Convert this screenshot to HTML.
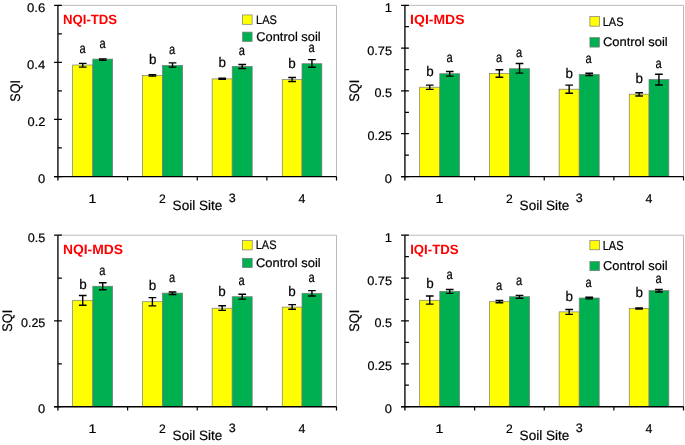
<!DOCTYPE html>
<html><head><meta charset="utf-8"><title>SQI charts</title>
<style>html,body{margin:0;padding:0;background:#fff;}svg{display:block;font-family:'Liberation Sans', sans-serif;will-change:transform;text-rendering:geometricPrecision;}</style>
</head><body>
<svg width="685" height="445" viewBox="0 0 685 445">
<rect width="685" height="445" fill="#fff"/>
<path d="M58 5.35H336.5V176.5" fill="none" stroke="#BBBBBB" stroke-width="1"/>
<rect x="72.65" y="65" width="20.15" height="111.5" fill="#FFFF00" stroke="#7A7A7A" stroke-width="0.7"/>
<rect x="92.8" y="59.1" width="19.85" height="117.4" fill="#00B050" stroke="#7A7A7A" stroke-width="0.7"/>
<path d="M78.88 63.35H86.57M82.72 63.35V67.15M78.88 67.15H86.57" stroke="#000" stroke-width="1.4" fill="none"/>
<path d="M98.88 58.85H106.57M102.72 58.85V60.35M98.88 60.35H106.57" stroke="#000" stroke-width="1.4" fill="none"/>
<rect x="142.4" y="75.5" width="20" height="101" fill="#FFFF00" stroke="#7A7A7A" stroke-width="0.7"/>
<rect x="162.4" y="65.4" width="20.25" height="111.1" fill="#00B050" stroke="#7A7A7A" stroke-width="0.7"/>
<path d="M148.55 74.65H156.25M152.4 74.65V76.15M148.55 76.15H156.25" stroke="#000" stroke-width="1.4" fill="none"/>
<path d="M168.68 62.85H176.38M172.53 62.85V67.15M168.68 67.15H176.38" stroke="#000" stroke-width="1.4" fill="none"/>
<rect x="212.15" y="78.9" width="20.05" height="97.6" fill="#FFFF00" stroke="#7A7A7A" stroke-width="0.7"/>
<rect x="232.2" y="66.4" width="20" height="110.1" fill="#00B050" stroke="#7A7A7A" stroke-width="0.7"/>
<path d="M218.33 78.15H226.03M222.18 78.15V79.35M218.33 79.35H226.03" stroke="#000" stroke-width="1.4" fill="none"/>
<path d="M238.35 64.55H246.05M242.2 64.55V68.45M238.35 68.45H246.05" stroke="#000" stroke-width="1.4" fill="none"/>
<rect x="282.25" y="79.5" width="19.75" height="97" fill="#FFFF00" stroke="#7A7A7A" stroke-width="0.7"/>
<rect x="302" y="63.7" width="19.85" height="112.8" fill="#00B050" stroke="#7A7A7A" stroke-width="0.7"/>
<path d="M288.27 77.45H295.98M292.12 77.45V81.45M288.27 81.45H295.98" stroke="#000" stroke-width="1.4" fill="none"/>
<path d="M308.07 59.65H315.78M311.93 59.65V67.25M308.07 67.25H315.78" stroke="#000" stroke-width="1.4" fill="none"/>
<path d="M57.9 5.35V180.5" stroke="#383838" stroke-width="1.7" fill="none"/>
<path d="M54.1 176.5H61.9M54.1 119.45H61.9M54.1 62.4H61.9M54.1 5.35H61.9M58 147.97H61.9M58 90.92H61.9M58 33.88H61.9" stroke="#000" stroke-width="1.25" fill="none"/>
<path d="M54.1 176.65H336.5" stroke="#000" stroke-width="1.4" fill="none"/>
<path d="M127.62 176.5V180.5M197.25 176.5V180.5M266.88 176.5V180.5M336.5 176.5V180.5" stroke="#000" stroke-width="1.2" fill="none"/>
<text transform="translate(38.08 182.98) scale(1.0421 1)" font-size="12.394" font-weight="400" fill="#000" stroke="#000" stroke-width="0.2">0</text>
<text transform="translate(27.59 125.93) scale(1.0365 1)" font-size="12.394" font-weight="400" fill="#000" stroke="#000" stroke-width="0.2">0.2</text>
<text transform="translate(26.98 68.88) scale(1.0574 1)" font-size="12.394" font-weight="400" fill="#000" stroke="#000" stroke-width="0.2">0.4</text>
<text transform="translate(27.07 11.83) scale(1.0593 1)" font-size="12.394" font-weight="400" fill="#000" stroke="#000" stroke-width="0.2">0.6</text>
<text transform="translate(88.62 202.6) scale(1.1382 1)" font-size="12.464" font-weight="400" fill="#000" stroke="#000" stroke-width="0.2">1</text>
<text transform="translate(158.99 202.6) scale(0.9909 1)" font-size="12.286" font-weight="400" fill="#000" stroke="#000" stroke-width="0.2">2</text>
<text transform="translate(228.75 202.48) scale(1.0364 1)" font-size="12.113" font-weight="400" fill="#000" stroke="#000" stroke-width="0.2">3</text>
<text transform="translate(298.6 202.73) scale(0.9767 1)" font-size="12.647" font-weight="400" fill="#000" stroke="#000" stroke-width="0.2">4</text>
<text transform="translate(172.62 209.96) scale(0.9913 1)" font-size="13.649" font-weight="400" fill="#000" stroke="#000" stroke-width="0.2">Soil Site</text>
<text transform="translate(19.6 101.63) rotate(-90) scale(0.9043 1)" font-size="13.857" font-weight="400" fill="#000" stroke="#000" stroke-width="0.2">SQI</text>
<text transform="translate(62.98 24.4) scale(0.9830 1)" font-size="13.429" font-weight="700" fill="#FF0000">NQI-TDS</text>
<rect x="242.6" y="14.95" width="9.5" height="9.35" fill="#FFFF00" stroke="#7A7A7A" stroke-width="0.7"/>
<rect x="242.6" y="32.1" width="9.5" height="9.4" fill="#00B050" stroke="#7A7A7A" stroke-width="0.7"/>
<text transform="translate(256.02 23.98) scale(0.8893 1)" font-size="12.394" font-weight="400" fill="#000" stroke="#000" stroke-width="0.2">LAS</text>
<text transform="translate(256.26 41.17) scale(1.0142 1)" font-size="12.703" font-weight="400" fill="#000" stroke="#000" stroke-width="0.2">Control soil</text>
<text transform="translate(79.55 53.31) scale(0.8072 1)" font-size="13.818" font-weight="400" fill="#000" stroke="#000" stroke-width="0.2">a</text>
<text transform="translate(99.45 47.81) scale(0.8072 1)" font-size="13.818" font-weight="400" fill="#000" stroke="#000" stroke-width="0.2">a</text>
<text transform="translate(149.01 64) scale(0.9597 1)" font-size="13.973" font-weight="400" fill="#000" stroke="#000" stroke-width="0.2">b</text>
<text transform="translate(168.9 53.71) scale(0.8072 1)" font-size="13.818" font-weight="400" fill="#000" stroke="#000" stroke-width="0.2">a</text>
<text transform="translate(218.46 67.05) scale(0.9597 1)" font-size="13.973" font-weight="400" fill="#000" stroke="#000" stroke-width="0.2">b</text>
<text transform="translate(238.65 55.01) scale(0.8072 1)" font-size="13.818" font-weight="400" fill="#000" stroke="#000" stroke-width="0.2">a</text>
<text transform="translate(288.26 67.7) scale(0.9597 1)" font-size="13.973" font-weight="400" fill="#000" stroke="#000" stroke-width="0.2">b</text>
<text transform="translate(308.45 52.16) scale(0.8072 1)" font-size="13.818" font-weight="400" fill="#000" stroke="#000" stroke-width="0.2">a</text>
<path d="M405 5.35H683.5V176.5" fill="none" stroke="#BBBBBB" stroke-width="1"/>
<rect x="419.65" y="87.2" width="20.15" height="89.3" fill="#FFFF00" stroke="#7A7A7A" stroke-width="0.7"/>
<rect x="439.8" y="73.7" width="19.85" height="102.8" fill="#00B050" stroke="#7A7A7A" stroke-width="0.7"/>
<path d="M425.88 85.15H433.58M429.73 85.15V89.35M425.88 89.35H433.58" stroke="#000" stroke-width="1.4" fill="none"/>
<path d="M445.88 71.55H453.58M449.73 71.55V76.15M445.88 76.15H453.58" stroke="#000" stroke-width="1.4" fill="none"/>
<rect x="489.4" y="73.4" width="20" height="103.1" fill="#FFFF00" stroke="#7A7A7A" stroke-width="0.7"/>
<rect x="509.4" y="68.7" width="20.25" height="107.8" fill="#00B050" stroke="#7A7A7A" stroke-width="0.7"/>
<path d="M495.55 69.75H503.25M499.4 69.75V77.25M495.55 77.25H503.25" stroke="#000" stroke-width="1.4" fill="none"/>
<path d="M515.67 63.55H523.38M519.52 63.55V73.15M515.67 73.15H523.38" stroke="#000" stroke-width="1.4" fill="none"/>
<rect x="559.15" y="89.2" width="20.05" height="87.3" fill="#FFFF00" stroke="#7A7A7A" stroke-width="0.7"/>
<rect x="579.2" y="74.4" width="20" height="102.1" fill="#00B050" stroke="#7A7A7A" stroke-width="0.7"/>
<path d="M565.32 85.15H573.02M569.17 85.15V93.25M565.32 93.25H573.02" stroke="#000" stroke-width="1.4" fill="none"/>
<path d="M585.35 73.25H593.05M589.2 73.25V75.45M585.35 75.45H593.05" stroke="#000" stroke-width="1.4" fill="none"/>
<rect x="629.25" y="94.2" width="19.75" height="82.3" fill="#FFFF00" stroke="#7A7A7A" stroke-width="0.7"/>
<rect x="649" y="79.4" width="19.85" height="97.1" fill="#00B050" stroke="#7A7A7A" stroke-width="0.7"/>
<path d="M635.27 92.75H642.98M639.12 92.75V96.05M635.27 96.05H642.98" stroke="#000" stroke-width="1.4" fill="none"/>
<path d="M655.07 74.25H662.77M658.92 74.25V85.05M655.07 85.05H662.77" stroke="#000" stroke-width="1.4" fill="none"/>
<path d="M404.9 5.35V180.5" stroke="#383838" stroke-width="1.7" fill="none"/>
<path d="M401.1 176.5H408.9M401.1 133.71H408.9M401.1 90.92H408.9M401.1 48.14H408.9M401.1 5.35H408.9M405 155.11H408.9M405 112.32H408.9M405 69.53H408.9M405 26.74H408.9" stroke="#000" stroke-width="1.25" fill="none"/>
<path d="M401.1 176.65H683.5" stroke="#000" stroke-width="1.4" fill="none"/>
<path d="M474.62 176.5V180.5M544.25 176.5V180.5M613.88 176.5V180.5M683.5 176.5V180.5" stroke="#000" stroke-width="1.2" fill="none"/>
<text transform="translate(384.78 182.98) scale(1.0421 1)" font-size="12.394" font-weight="400" fill="#000" stroke="#000" stroke-width="0.2">0</text>
<text transform="translate(367.6 140.19) scale(1.0150 1)" font-size="12.394" font-weight="400" fill="#000" stroke="#000" stroke-width="0.2">0.25</text>
<text transform="translate(374.39 97.4) scale(1.0224 1)" font-size="12.394" font-weight="400" fill="#000" stroke="#000" stroke-width="0.2">0.5</text>
<text transform="translate(367.19 54.61) scale(1.0324 1)" font-size="12.394" font-weight="400" fill="#000" stroke="#000" stroke-width="0.2">0.75</text>
<text transform="translate(384.86 11.95) scale(1.0211 1)" font-size="12.754" font-weight="400" fill="#000" stroke="#000" stroke-width="0.2">1</text>
<text transform="translate(435.62 202.6) scale(1.1382 1)" font-size="12.464" font-weight="400" fill="#000" stroke="#000" stroke-width="0.2">1</text>
<text transform="translate(505.99 202.6) scale(0.9909 1)" font-size="12.286" font-weight="400" fill="#000" stroke="#000" stroke-width="0.2">2</text>
<text transform="translate(575.75 202.48) scale(1.0364 1)" font-size="12.113" font-weight="400" fill="#000" stroke="#000" stroke-width="0.2">3</text>
<text transform="translate(645.6 202.73) scale(0.9767 1)" font-size="12.647" font-weight="400" fill="#000" stroke="#000" stroke-width="0.2">4</text>
<text transform="translate(519.62 209.96) scale(0.9913 1)" font-size="13.649" font-weight="400" fill="#000" stroke="#000" stroke-width="0.2">Soil Site</text>
<text transform="translate(359.4 101.63) rotate(-90) scale(0.9135 1)" font-size="13.857" font-weight="400" fill="#000" stroke="#000" stroke-width="0.2">SQI</text>
<text transform="translate(410.12 24.4) scale(1.0441 1)" font-size="13.429" font-weight="700" fill="#FF0000">IQI-MDS</text>
<rect x="589.9" y="16.6" width="9.5" height="9.6" fill="#FFFF00" stroke="#7A7A7A" stroke-width="0.7"/>
<rect x="589.9" y="37.6" width="9.5" height="9.5" fill="#00B050" stroke="#7A7A7A" stroke-width="0.7"/>
<text transform="translate(602.72 25.68) scale(0.8996 1)" font-size="12.254" font-weight="400" fill="#000" stroke="#000" stroke-width="0.2">LAS</text>
<text transform="translate(602.95 46.38) scale(1.0412 1)" font-size="12.432" font-weight="400" fill="#000" stroke="#000" stroke-width="0.2">Control soil</text>
<text transform="translate(426.16 75.85) scale(0.9597 1)" font-size="13.973" font-weight="400" fill="#000" stroke="#000" stroke-width="0.2">b</text>
<text transform="translate(446.6 62.01) scale(0.8072 1)" font-size="13.818" font-weight="400" fill="#000" stroke="#000" stroke-width="0.2">a</text>
<text transform="translate(496.05 62.21) scale(0.8072 1)" font-size="13.818" font-weight="400" fill="#000" stroke="#000" stroke-width="0.2">a</text>
<text transform="translate(515.95 57.01) scale(0.8072 1)" font-size="13.818" font-weight="400" fill="#000" stroke="#000" stroke-width="0.2">a</text>
<text transform="translate(565.41 77.5) scale(0.9597 1)" font-size="13.973" font-weight="400" fill="#000" stroke="#000" stroke-width="0.2">b</text>
<text transform="translate(585.55 62.76) scale(0.8072 1)" font-size="13.818" font-weight="400" fill="#000" stroke="#000" stroke-width="0.2">a</text>
<text transform="translate(635.41 83.05) scale(0.9597 1)" font-size="13.973" font-weight="400" fill="#000" stroke="#000" stroke-width="0.2">b</text>
<text transform="translate(655.55 67.81) scale(0.8072 1)" font-size="13.818" font-weight="400" fill="#000" stroke="#000" stroke-width="0.2">a</text>
<path d="M58 235.2H336.5V406.6" fill="none" stroke="#BBBBBB" stroke-width="1"/>
<rect x="72.65" y="300.3" width="20.15" height="106.3" fill="#FFFF00" stroke="#7A7A7A" stroke-width="0.7"/>
<rect x="92.8" y="286.2" width="19.85" height="120.4" fill="#00B050" stroke="#7A7A7A" stroke-width="0.7"/>
<path d="M78.88 295.55H86.57M82.72 295.55V305.25M78.88 305.25H86.57" stroke="#000" stroke-width="1.4" fill="none"/>
<path d="M98.88 282.75H106.57M102.72 282.75V289.75M98.88 289.75H106.57" stroke="#000" stroke-width="1.4" fill="none"/>
<rect x="142.4" y="301.7" width="20" height="104.9" fill="#FFFF00" stroke="#7A7A7A" stroke-width="0.7"/>
<rect x="162.4" y="293.1" width="20.25" height="113.5" fill="#00B050" stroke="#7A7A7A" stroke-width="0.7"/>
<path d="M148.55 297.65H156.25M152.4 297.65V305.85M148.55 305.85H156.25" stroke="#000" stroke-width="1.4" fill="none"/>
<path d="M168.68 291.95H176.38M172.53 291.95V294.45M168.68 294.45H176.38" stroke="#000" stroke-width="1.4" fill="none"/>
<rect x="212.15" y="308.2" width="20.05" height="98.4" fill="#FFFF00" stroke="#7A7A7A" stroke-width="0.7"/>
<rect x="232.2" y="296.7" width="20" height="109.9" fill="#00B050" stroke="#7A7A7A" stroke-width="0.7"/>
<path d="M218.33 305.75H226.03M222.18 305.75V310.35M218.33 310.35H226.03" stroke="#000" stroke-width="1.4" fill="none"/>
<path d="M238.35 294.25H246.05M242.2 294.25V299.15M238.35 299.15H246.05" stroke="#000" stroke-width="1.4" fill="none"/>
<rect x="282.25" y="307.1" width="19.75" height="99.5" fill="#FFFF00" stroke="#7A7A7A" stroke-width="0.7"/>
<rect x="302" y="293.3" width="19.85" height="113.3" fill="#00B050" stroke="#7A7A7A" stroke-width="0.7"/>
<path d="M288.27 304.65H295.98M292.12 304.65V309.25M288.27 309.25H295.98" stroke="#000" stroke-width="1.4" fill="none"/>
<path d="M308.07 290.65H315.78M311.93 290.65V296.05M308.07 296.05H315.78" stroke="#000" stroke-width="1.4" fill="none"/>
<path d="M57.9 235.2V410.6" stroke="#383838" stroke-width="1.7" fill="none"/>
<path d="M54.1 406.6H61.9M54.1 320.9H61.9M54.1 235.2H61.9M58 363.75H61.9M58 278.05H61.9" stroke="#000" stroke-width="1.25" fill="none"/>
<path d="M54.1 406.75H336.5" stroke="#000" stroke-width="1.4" fill="none"/>
<path d="M127.62 406.6V410.6M197.25 406.6V410.6M266.88 406.6V410.6M336.5 406.6V410.6" stroke="#000" stroke-width="1.2" fill="none"/>
<text transform="translate(38.08 413.08) scale(1.0421 1)" font-size="12.394" font-weight="400" fill="#000" stroke="#000" stroke-width="0.2">0</text>
<text transform="translate(20.9 327.38) scale(1.0150 1)" font-size="12.394" font-weight="400" fill="#000" stroke="#000" stroke-width="0.2">0.25</text>
<text transform="translate(27.69 241.68) scale(1.0224 1)" font-size="12.394" font-weight="400" fill="#000" stroke="#000" stroke-width="0.2">0.5</text>
<text transform="translate(88.62 432.5) scale(1.1382 1)" font-size="12.464" font-weight="400" fill="#000" stroke="#000" stroke-width="0.2">1</text>
<text transform="translate(158.99 432.5) scale(0.9909 1)" font-size="12.286" font-weight="400" fill="#000" stroke="#000" stroke-width="0.2">2</text>
<text transform="translate(228.75 432.38) scale(1.0364 1)" font-size="12.113" font-weight="400" fill="#000" stroke="#000" stroke-width="0.2">3</text>
<text transform="translate(298.6 432.63) scale(0.9767 1)" font-size="12.647" font-weight="400" fill="#000" stroke="#000" stroke-width="0.2">4</text>
<text transform="translate(172.62 439.86) scale(0.9913 1)" font-size="13.649" font-weight="400" fill="#000" stroke="#000" stroke-width="0.2">Soil Site</text>
<text transform="translate(12.4 331.63) rotate(-90) scale(0.9135 1)" font-size="13.857" font-weight="400" fill="#000" stroke="#000" stroke-width="0.2">SQI</text>
<text transform="translate(62.93 254.2) scale(1.0232 1)" font-size="13.571" font-weight="700" fill="#FF0000">NQI-MDS</text>
<rect x="242.5" y="240.6" width="9.7" height="9.3" fill="#FFFF00" stroke="#7A7A7A" stroke-width="0.7"/>
<rect x="242.5" y="258.3" width="9.7" height="9.3" fill="#00B050" stroke="#7A7A7A" stroke-width="0.7"/>
<text transform="translate(255.72 249.37) scale(0.8793 1)" font-size="12.535" font-weight="400" fill="#000" stroke="#000" stroke-width="0.2">LAS</text>
<text transform="translate(255.95 267.08) scale(1.0412 1)" font-size="12.432" font-weight="400" fill="#000" stroke="#000" stroke-width="0.2">Control soil</text>
<text transform="translate(79.26 288.65) scale(0.9597 1)" font-size="13.973" font-weight="400" fill="#000" stroke="#000" stroke-width="0.2">b</text>
<text transform="translate(99.15 274.71) scale(0.8072 1)" font-size="13.818" font-weight="400" fill="#000" stroke="#000" stroke-width="0.2">a</text>
<text transform="translate(148.86 290.15) scale(0.9597 1)" font-size="13.973" font-weight="400" fill="#000" stroke="#000" stroke-width="0.2">b</text>
<text transform="translate(168.95 281.51) scale(0.8072 1)" font-size="13.818" font-weight="400" fill="#000" stroke="#000" stroke-width="0.2">a</text>
<text transform="translate(218.26 296.25) scale(0.9597 1)" font-size="13.973" font-weight="400" fill="#000" stroke="#000" stroke-width="0.2">b</text>
<text transform="translate(238.6 285.36) scale(0.8072 1)" font-size="13.818" font-weight="400" fill="#000" stroke="#000" stroke-width="0.2">a</text>
<text transform="translate(288.26 295.5) scale(0.9597 1)" font-size="13.973" font-weight="400" fill="#000" stroke="#000" stroke-width="0.2">b</text>
<text transform="translate(308.6 281.61) scale(0.8072 1)" font-size="13.818" font-weight="400" fill="#000" stroke="#000" stroke-width="0.2">a</text>
<path d="M405 235.2H683.5V406.6" fill="none" stroke="#BBBBBB" stroke-width="1"/>
<rect x="419.65" y="300.3" width="20.15" height="106.3" fill="#FFFF00" stroke="#7A7A7A" stroke-width="0.7"/>
<rect x="439.8" y="291.3" width="19.85" height="115.3" fill="#00B050" stroke="#7A7A7A" stroke-width="0.7"/>
<path d="M425.88 296.05H433.58M429.73 296.05V304.15M425.88 304.15H433.58" stroke="#000" stroke-width="1.4" fill="none"/>
<path d="M445.88 289.55H453.58M449.73 289.55V293.35M445.88 293.35H453.58" stroke="#000" stroke-width="1.4" fill="none"/>
<rect x="489.4" y="301.7" width="20" height="104.9" fill="#FFFF00" stroke="#7A7A7A" stroke-width="0.7"/>
<rect x="509.4" y="296.7" width="20.25" height="109.9" fill="#00B050" stroke="#7A7A7A" stroke-width="0.7"/>
<path d="M495.55 300.55H503.25M499.4 300.55V302.75M495.55 302.75H503.25" stroke="#000" stroke-width="1.4" fill="none"/>
<path d="M515.67 295.35H523.38M519.52 295.35V298.25M515.67 298.25H523.38" stroke="#000" stroke-width="1.4" fill="none"/>
<rect x="559.15" y="311.9" width="20.05" height="94.7" fill="#FFFF00" stroke="#7A7A7A" stroke-width="0.7"/>
<rect x="579.2" y="298" width="20" height="108.6" fill="#00B050" stroke="#7A7A7A" stroke-width="0.7"/>
<path d="M565.32 309.45H573.02M569.17 309.45V314.35M565.32 314.35H573.02" stroke="#000" stroke-width="1.4" fill="none"/>
<path d="M585.35 297.25H593.05M589.2 297.25V298.85M585.35 298.85H593.05" stroke="#000" stroke-width="1.4" fill="none"/>
<rect x="629.25" y="308.4" width="19.75" height="98.2" fill="#FFFF00" stroke="#7A7A7A" stroke-width="0.7"/>
<rect x="649" y="290.6" width="19.85" height="116" fill="#00B050" stroke="#7A7A7A" stroke-width="0.7"/>
<path d="M635.27 308.05H642.98M639.12 308.05V308.95M635.27 308.95H642.98" stroke="#000" stroke-width="1.4" fill="none"/>
<path d="M655.07 289.55H662.77M658.92 289.55V291.95M655.07 291.95H662.77" stroke="#000" stroke-width="1.4" fill="none"/>
<path d="M404.9 235.2V410.6" stroke="#383838" stroke-width="1.7" fill="none"/>
<path d="M401.1 406.6H408.9M401.1 363.75H408.9M401.1 320.9H408.9M401.1 278.05H408.9M401.1 235.2H408.9M405 385.18H408.9M405 342.33H408.9M405 299.48H408.9M405 256.62H408.9" stroke="#000" stroke-width="1.25" fill="none"/>
<path d="M401.1 406.75H683.5" stroke="#000" stroke-width="1.4" fill="none"/>
<path d="M474.62 406.6V410.6M544.25 406.6V410.6M613.88 406.6V410.6M683.5 406.6V410.6" stroke="#000" stroke-width="1.2" fill="none"/>
<text transform="translate(384.78 413.08) scale(1.0421 1)" font-size="12.394" font-weight="400" fill="#000" stroke="#000" stroke-width="0.2">0</text>
<text transform="translate(367.6 370.23) scale(1.0150 1)" font-size="12.394" font-weight="400" fill="#000" stroke="#000" stroke-width="0.2">0.25</text>
<text transform="translate(374.39 327.38) scale(1.0224 1)" font-size="12.394" font-weight="400" fill="#000" stroke="#000" stroke-width="0.2">0.5</text>
<text transform="translate(367.19 284.53) scale(1.0324 1)" font-size="12.394" font-weight="400" fill="#000" stroke="#000" stroke-width="0.2">0.75</text>
<text transform="translate(384.86 241.8) scale(1.0211 1)" font-size="12.754" font-weight="400" fill="#000" stroke="#000" stroke-width="0.2">1</text>
<text transform="translate(435.62 432.5) scale(1.1382 1)" font-size="12.464" font-weight="400" fill="#000" stroke="#000" stroke-width="0.2">1</text>
<text transform="translate(505.99 432.5) scale(0.9909 1)" font-size="12.286" font-weight="400" fill="#000" stroke="#000" stroke-width="0.2">2</text>
<text transform="translate(575.75 432.38) scale(1.0364 1)" font-size="12.113" font-weight="400" fill="#000" stroke="#000" stroke-width="0.2">3</text>
<text transform="translate(645.6 432.63) scale(0.9767 1)" font-size="12.647" font-weight="400" fill="#000" stroke="#000" stroke-width="0.2">4</text>
<text transform="translate(519.62 439.86) scale(0.9913 1)" font-size="13.649" font-weight="400" fill="#000" stroke="#000" stroke-width="0.2">Soil Site</text>
<text transform="translate(359.4 331.63) rotate(-90) scale(0.9135 1)" font-size="13.857" font-weight="400" fill="#000" stroke="#000" stroke-width="0.2">SQI</text>
<text transform="translate(410.18 253.9) scale(0.9831 1)" font-size="13.429" font-weight="700" fill="#FF0000">IQI-TDS</text>
<rect x="589.9" y="240.6" width="9.5" height="9.2" fill="#FFFF00" stroke="#7A7A7A" stroke-width="0.7"/>
<rect x="589.9" y="261.5" width="9.5" height="9.2" fill="#00B050" stroke="#7A7A7A" stroke-width="0.7"/>
<text transform="translate(602.72 249.67) scale(0.8507 1)" font-size="12.958" font-weight="400" fill="#000" stroke="#000" stroke-width="0.2">LAS</text>
<text transform="translate(602.95 270.37) scale(1.0083 1)" font-size="12.838" font-weight="400" fill="#000" stroke="#000" stroke-width="0.2">Control soil</text>
<text transform="translate(426.16 288.25) scale(0.9597 1)" font-size="13.973" font-weight="400" fill="#000" stroke="#000" stroke-width="0.2">b</text>
<text transform="translate(446.45 279.26) scale(0.8072 1)" font-size="13.818" font-weight="400" fill="#000" stroke="#000" stroke-width="0.2">a</text>
<text transform="translate(496.05 289.91) scale(0.8072 1)" font-size="13.818" font-weight="400" fill="#000" stroke="#000" stroke-width="0.2">a</text>
<text transform="translate(515.95 285.16) scale(0.8072 1)" font-size="13.818" font-weight="400" fill="#000" stroke="#000" stroke-width="0.2">a</text>
<text transform="translate(565.41 300.65) scale(0.9597 1)" font-size="13.973" font-weight="400" fill="#000" stroke="#000" stroke-width="0.2">b</text>
<text transform="translate(585.55 286.76) scale(0.8072 1)" font-size="13.818" font-weight="400" fill="#000" stroke="#000" stroke-width="0.2">a</text>
<text transform="translate(635.41 297.3) scale(0.9597 1)" font-size="13.973" font-weight="400" fill="#000" stroke="#000" stroke-width="0.2">b</text>
<text transform="translate(655.55 282.81) scale(0.8072 1)" font-size="13.818" font-weight="400" fill="#000" stroke="#000" stroke-width="0.2">a</text>
</svg>
</body></html>
